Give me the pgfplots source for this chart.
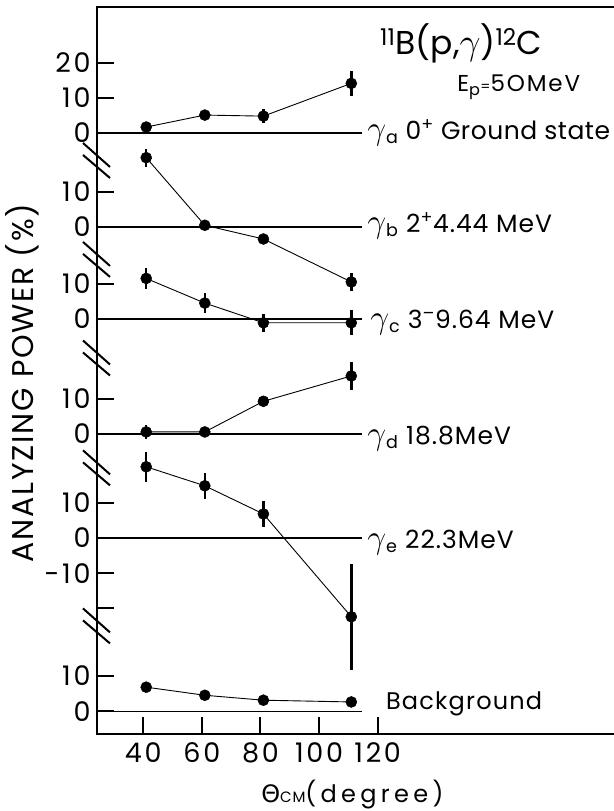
\documentclass[border=0pt]{standalone}
\usepackage{pgfplots}
\pgfplotsset{compat=1.18}
\usepackage{graphicx}
\usepackage{fontspec}
\setmainfont{Poppins}
\newfontfamily\dejavu{DejaVu Sans}
\newcommand{\g}[1]{\scalebox{1.35}{$\gamma$}\textsubscript{#1}}
\pgfplotsset{dat/.style={line width=0.9pt, black, mark=*, mark size=5.5pt,
  mark options={fill=black, line width=0.5pt},
  error bars/.cd, y dir=both, y explicit, error mark=none,
  error bar style={line width=2.5pt}}}
\begin{document}
\begin{tikzpicture}
\begin{axis}[
  at={(0pt,0pt)}, anchor=south west,
  scale only axis, width=530pt, height=727pt,
  xmin=24.2, xmax=205.1, ymin=0, ymax=206.5,
  axis line style={line width=2pt},
  xtick={40,60,80,100,120},
  xticklabels={40,60,80,100,120},
  ytick={6.5,16.5,35.7,45.7,55.7,65.7,85.2,95.2,117.9,127.9,144,154,170.7,180.7,190.7},
  yticklabels={0,10,,-10,0,10,0,10,0,10,0,10,0,10,20},
  tick style={line width=2pt, black},
  major tick length=17pt,
  tick align=inside,
  xtick pos=bottom, ytick pos=left,
  /pgf/number format/assume math mode=true,
  tick label style={font=\fontsize{27}{27}\selectfont\addfontfeature{LetterSpace=10}},
  yticklabel style={xshift=-3pt},
  xticklabel style={yshift=-5pt},
  clip=false,
  xlabel={{\dejavu\fontsize{24}{24}\selectfont Θ}{\fontsize{15}{15}\selectfont\addfontfeature{LetterSpace=5}CM}{\fontsize{24}{24}\selectfont\addfontfeature{LetterSpace=18}(degree)}},
  xlabel style={at={(axis description cs:0.482,0)}, anchor=center, yshift=-61pt},
  ylabel={\fontsize{30}{30}\selectfont\addfontfeature{LetterSpace=6}ANALYZING POWER (\%)},
  ylabel style={at={([xshift=-75pt]axis description cs:0,0.483)}, anchor=center, rotate=0},
]
% zero lines
\addplot[line width=1.2pt, no marks] coordinates {(24.2,170.7) (114.6,170.7)};
\addplot[line width=1.2pt, no marks] coordinates {(24.2,144) (114.6,144)};
\addplot[line width=1.2pt, no marks] coordinates {(24.2,117.9) (114.6,117.9)};
\addplot[line width=1.2pt, no marks] coordinates {(24.2,85.2) (114.6,85.2)};
\addplot[line width=1.2pt, no marks] coordinates {(24.2,55.7) (114.6,55.7)};
\addplot[line width=1.2pt, no marks] coordinates {(24.2,6.5) (114.6,6.5)};
% gamma a (offset 170.7)
\addplot[dat] coordinates {(41,172.4) +- (0,1.2) (61,175.8) +- (0,0.8) (81,175.5) +- (0,2) (111,184.8) +- (0,3.5)};
% gamma b (offset 144)
\addplot[dat] coordinates {(41,163.7) +- (0,2.6) (61,144.5) +- (0,1) (81,140.6) +- (0,1.5) (111,128.4) +- (0,2.5)};
% gamma c (offset 117.9)
\addplot[dat] coordinates {(41,129.4) +- (0,3) (61,122.4) +- (0,2.8) (81,116.8) +- (0,2.5) (111,116.8) +- (0,3.5)};
% gamma d (offset 85.2)
\addplot[dat] coordinates {(41,85.8) +- (0,2) (61,85.8) +- (0,1) (81,94.5) +- (0,1) (111,101.7) +- (0,4.1)};
% gamma e (offset 55.7)
\addplot[dat] coordinates {(41,75.9) +- (0,4.3) (61,70.5) +- (0,3.7) (81,62.5) +- (0,3.7) (111,33.3) +- (0,15)};
% background (offset 6.5)
\addplot[dat] coordinates {(41,13.3) +- (0,0) (61,11.0) +- (0,0) (81,9.6) +- (0,0) (111,9.1) +- (0,0)};
% axis breaks
\pgfplotsinvokeforeach{162.9,134.8,106.8,75.6,30.7}{
  \draw[line width=2pt] ([xshift=-14pt,yshift=17.5pt]axis cs:24.2,#1) -- ++(27pt,-24pt);
  \draw[line width=2pt] ([xshift=-14pt,yshift=5.5pt]axis cs:24.2,#1) -- ++(27pt,-23pt);
}
% labels
\node[anchor=base west, inner sep=0pt, font=\fontsize{33}{33}\selectfont] at (axis cs:120.8,192.9)
  {\textsuperscript{11}B(p,\scalebox{1.5}{$\gamma$})\textsuperscript{12}C};
\node[anchor=base west, inner sep=0pt, font=\fontsize{23}{23}\selectfont\addfontfeature{LetterSpace=8}] at (axis cs:147.1,182.4)
  {E\textsubscript{p}{\fontsize{14}{14}\selectfont=}5OMeV};
\node[anchor=base west, inner sep=0pt, font=\fontsize{25}{25}\selectfont\addfontfeature{LetterSpace=2}] at (axis cs:116.4,168.9)
  {\g{a} 0\textsuperscript{+} Ground state};
\node[anchor=base west, inner sep=0pt, font=\fontsize{25}{25}\selectfont\addfontfeature{LetterSpace=4}] at (axis cs:116.4,142.5)
  {\g{b} 2\textsuperscript{+}4.44 MeV};
\node[anchor=base west, inner sep=0pt, font=\fontsize{25}{25}\selectfont\addfontfeature{LetterSpace=4}] at (axis cs:117.4,115.2)
  {\g{c} 3\textsuperscript{--}9.64 MeV};
\node[anchor=base west, inner sep=0pt, font=\fontsize{25}{25}\selectfont\addfontfeature{LetterSpace=4}] at (axis cs:116.4,82.2)
  {\g{d} 18.8MeV};
\node[anchor=base west, inner sep=0pt, font=\fontsize{25}{25}\selectfont\addfontfeature{LetterSpace=4}] at (axis cs:116.4,52.7)
  {\g{e} 22.3MeV};
\node[anchor=base west, inner sep=0pt, font=\fontsize{24}{24}\selectfont\addfontfeature{LetterSpace=5}] at (axis cs:122.8,7.0)
  {Background};
\end{axis}
\pgfresetboundingbox
\path[use as bounding box] (-97pt,-77pt) rectangle (516pt,734pt);
\end{tikzpicture}
\end{document}
